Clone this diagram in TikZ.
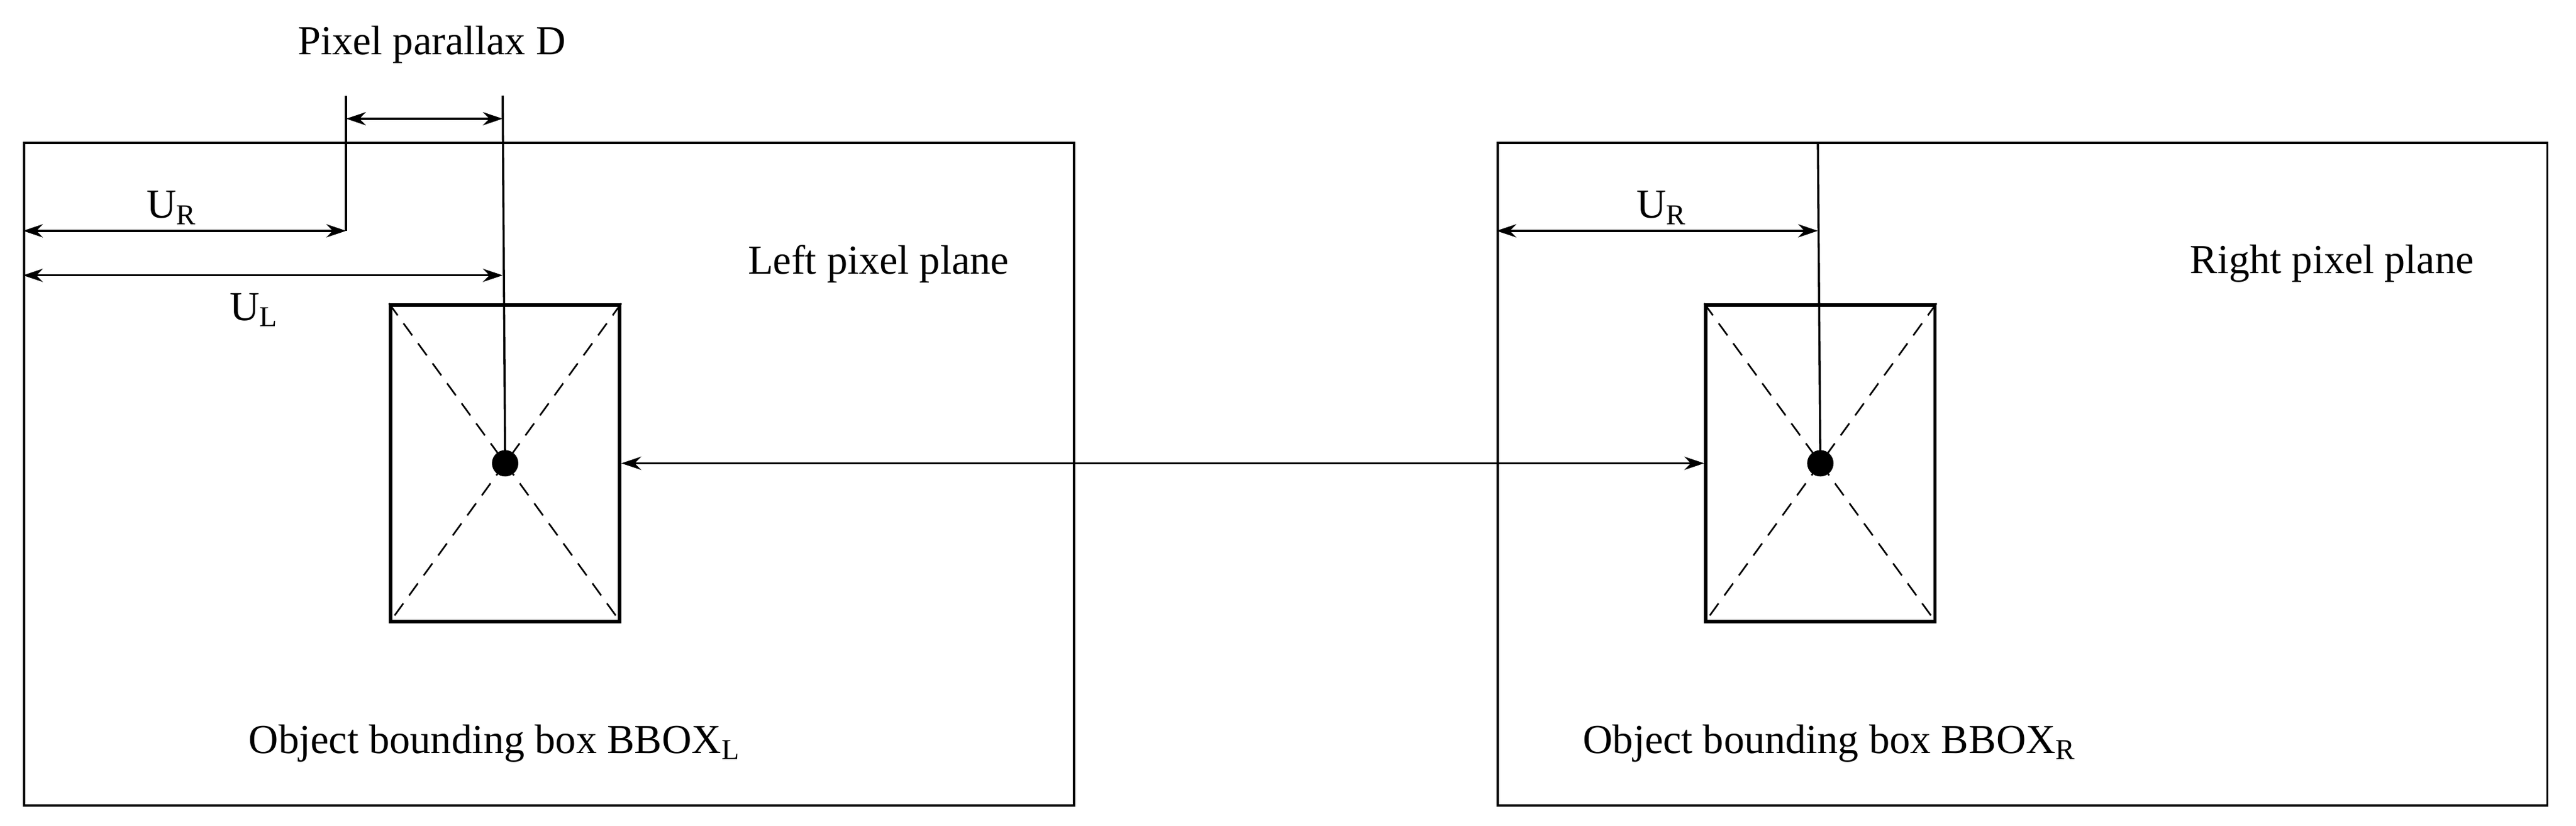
\documentclass[tikz,border=0pt]{standalone}
\usepackage{fontspec}
\setmainfont{Liberation Serif}
\usetikzlibrary{arrows.meta}
\begin{document}
\begin{tikzpicture}[x=1pt,y=-1pt,
  plane/.style={draw,line width=1.3pt},
  bbox/.style={draw,line width=2pt},
  diag/.style={dashed,line width=1pt,dash pattern=on 9pt off 6pt},
  dim/.style={line width=1.3pt,{Stealth[length=12pt,width=8pt]}-{Stealth[length=12pt,width=8pt]}},
  thin/.style={line width=1.3pt},
  lab/.style={font=\fontsize{25}{30}\selectfont,inner sep=0pt}]
\useasboundingbox (0,0) rectangle (1563,501);
\node[plane,minimum width=637,minimum height=402,inner sep=0,anchor=north west] (LP) at (14,86) {};
\node[plane,minimum width=637,minimum height=402,inner sep=0,anchor=north west] (RP) at (908,86) {};
\node[bbox,minimum width=139,minimum height=192,inner sep=0,anchor=north west] (LB) at (236,184) {};
\node[bbox,minimum width=139,minimum height=192,inner sep=0,anchor=north west] (RB) at (1034,184) {};
\foreach \b in {LB,RB}{
  \draw[diag] (\b.north west) -- (\b.south east);
  \draw[diag] (\b.north east) -- (\b.south west);
}
\fill (LB.center) circle (8) coordinate (LC);
\fill (RB.center) circle (8) coordinate (RC);
\draw[dim] (LB.east) -- (RB.west);
\coordinate (T1) at (305,58);
\coordinate (T2) at (210,58);
\coordinate (B2) at (210,140);
\draw[thin] (T1) -- (LC);
\draw[thin] (T2) -- (B2);
\coordinate (Da) at (210,72); \coordinate (Db) at (305,72);
\draw[dim] (Da) -- (Db);
\coordinate (Ua) at (14,140);
\draw[dim] (Ua) -- (B2);
\coordinate (La) at (14,167); \coordinate (Lb) at (305,167);
\draw[dim] (La) -- (Lb);
\coordinate (RT) at (1103,86);
\draw[thin] (RT) -- (RC);
\coordinate (Ra) at (908,140); \coordinate (Rb) at (1103,140);
\draw[dim] (Ra) -- (Rb);
\node[lab] (pd) at (262,27) {Pixel parallax D};
\node[lab] (ur1) at (104,126) {U\textsubscript{R}};
\node[lab] (ul) at (154,188) {U\textsubscript{L}};
\node[lab] (ur2) at (1008,126) {U\textsubscript{R}};
\node[lab] (lpp) at (533,160) {Left pixel plane};
\node[lab] (rpp) at (1415,160) {Right pixel plane};
\node[lab] (ol) at (300,451) {Object bounding box BBOX\textsubscript{L}};
\node[lab] (or) at (1110,451) {Object bounding box BBOX\textsubscript{R}};
\end{tikzpicture}
\end{document}
